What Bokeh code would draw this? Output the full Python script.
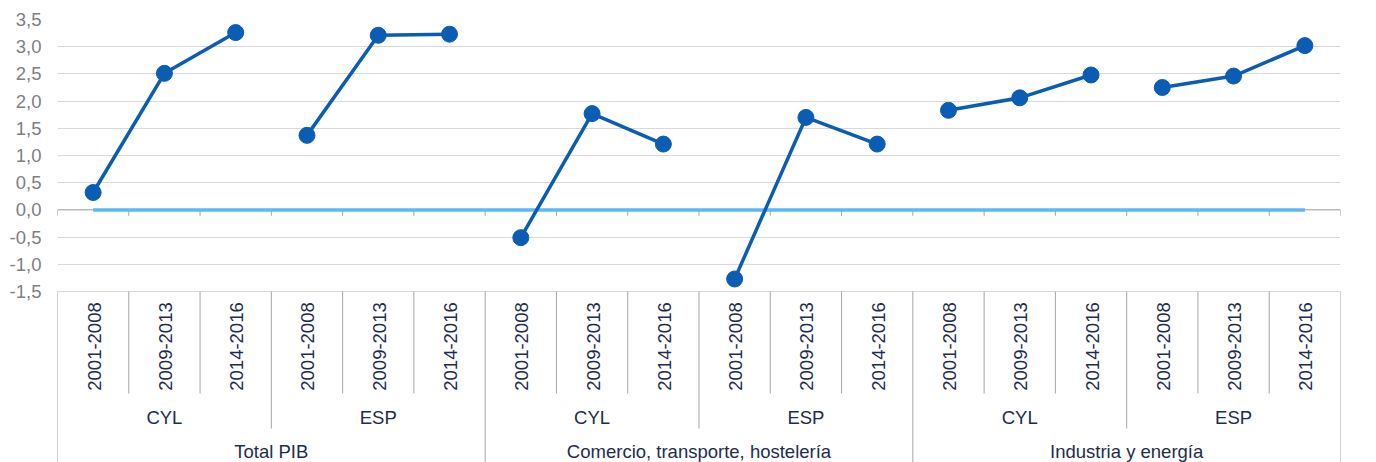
import math
from bokeh.plotting import figure
from bokeh.models import Range1d, FixedTicker, CustomJSTickFormatter
from bokeh.core.properties import value
from bokeh.embed import file_html
from bokeh.resources import INLINE

# ---- data ----
groups = ["Total PIB", "Comercio, transporte, hostelería", "Industria y energía"]
regions = ["CYL", "ESP"]
periods = ["2001-2008", "2009-2013", "2014-2016"]

total_pib_cyl = [0.32, 2.51, 3.26]
total_pib_esp = [1.37, 3.21, 3.23]
comercio_cyl = [-0.51, 1.77, 1.21]
comercio_esp = [-1.27, 1.70, 1.21]
industria_cyl = [1.83, 2.06, 2.48]
industria_esp = [2.25, 2.46, 3.02]
zero_series = [0.0, 0.0, 0.0, 0.0, 0.0, 0.0, 0.0, 0.0, 0.0,
               0.0, 0.0, 0.0, 0.0, 0.0, 0.0, 0.0, 0.0, 0.0]
y_ticks = [-1.5, -1.0, -0.5, 0.0, 0.5, 1.0, 1.5, 2.0, 2.5, 3.0, 3.5]

series = [[total_pib_cyl, total_pib_esp],
          [comercio_cyl, comercio_esp],
          [industria_cyl, industria_esp]]

# ---- layout ----
FONT = "Liberation Sans"
DARK = "#0B5DB4"
LIGHT = "#5BB9F4"
TXT = "#1E2C4F"
FSIZE = "18.5px"
FRAME_W, FRAME_H = 1283, 443
Y_TOP = 3.5
PX_PER_UNIT = 272 / 5.0
Y_BOT = Y_TOP - FRAME_H / PX_PER_UNIT
n_cat = len(groups) * len(regions) * len(periods)

p = figure(frame_width=FRAME_W, frame_height=FRAME_H,
           x_range=Range1d(0, n_cat), y_range=Range1d(Y_BOT, Y_TOP),
           output_backend="svg", toolbar_location=None,
           x_axis_location=None, min_border_left=57, min_border_right=36,
           min_border_top=19, min_border_bottom=0)
p.extra_y_ranges = {"tab": Range1d(0, FRAME_H)}
p.outline_line_color = None
p.background_fill_color = "white"
p.border_fill_color = "white"
p.xgrid.visible = False

ticker = FixedTicker(ticks=y_ticks)
p.yaxis.ticker = ticker
p.ygrid.ticker = ticker
p.ygrid.grid_line_color = "#D9D9D9"
p.ygrid.grid_line_width = 1
p.yaxis.axis_line_color = None
p.yaxis.major_tick_line_color = None
p.yaxis.minor_tick_line_color = None
p.yaxis.major_tick_out = 0
p.yaxis.major_tick_in = 0
p.yaxis.major_label_standoff = 16
p.yaxis.major_label_text_font = FONT
p.yaxis.major_label_text_font_size = FSIZE
p.yaxis.major_label_text_color = "#7F7F7F"
p.yaxis.formatter = CustomJSTickFormatter(code="return tick.toFixed(1).replace('.', ',');")

# zero axis line and its ticks
p.segment(x0=[0], y0=[0], x1=[n_cat], y1=[0], line_color="#A6A6A6", line_width=1)
bounds = list(range(n_cat + 1))
p.segment(x0=bounds, y0=[0] * len(bounds), x1=bounds, y1=[-0.11] * len(bounds),
          line_color="#A6A6A6", line_width=1)

# zero reference series
xs_all = [i + 0.5 for i in range(n_cat)]
p.line(xs_all, zero_series, line_color=LIGHT, line_width=3.5)

# main series, broken per group/region
for g, pair in enumerate(series):
    for r, vals in enumerate(pair):
        base = g * 6 + r * 3
        xs = [base + k + 0.5 for k in range(len(periods))]
        p.line(xs, vals, line_color=DARK, line_width=3.5)
        p.scatter(xs, vals, size=16, fill_color=DARK, line_color=DARK)

# ---- category table ----
TAB_TOP = FRAME_H - (Y_TOP - (-1.5)) * PX_PER_UNIT   # 171
sx, sy0, sy1 = [], [], []
for b in bounds:
    sx.append(b)
    sy0.append(TAB_TOP)
    if b % 6 == 0:
        sy1.append(0)
    elif b % 3 == 0:
        sy1.append(34)
    else:
        sy1.append(69)
p.segment(x0=sx, y0=sy0, x1=sx, y1=sy1, line_color="#A6A6A6", line_width=1,
          y_range_name="tab")

px, pt, rx, rt, gx, gt = [], [], [], [], [], []
for g, gname in enumerate(groups):
    gx.append(g * 6 + 3)
    gt.append(gname)
    for r, rname in enumerate(regions):
        rx.append(g * 6 + r * 3 + 1.5)
        rt.append(rname)
        for k, per in enumerate(periods):
            px.append(g * 6 + r * 3 + k + 0.5)
            pt.append(per)

p.text(x=px, y=[116] * len(px), text=pt, angle=math.pi / 2, x_offset=1,
       text_align="center", text_baseline="middle", text_color=TXT,
       text_font=value(FONT), text_font_size=value(FSIZE), y_range_name="tab")
p.text(x=rx, y=[45] * len(rx), text=rt,
       text_align="center", text_baseline="middle", text_color=TXT,
       text_font=value(FONT), text_font_size=value(FSIZE), y_range_name="tab")
p.text(x=gx, y=[11] * len(gx), text=gt,
       text_align="center", text_baseline="middle", text_color=TXT,
       text_font=value(FONT), text_font_size=value(FSIZE), y_range_name="tab")

open("out.html", "w").write(file_html(p, INLINE))
